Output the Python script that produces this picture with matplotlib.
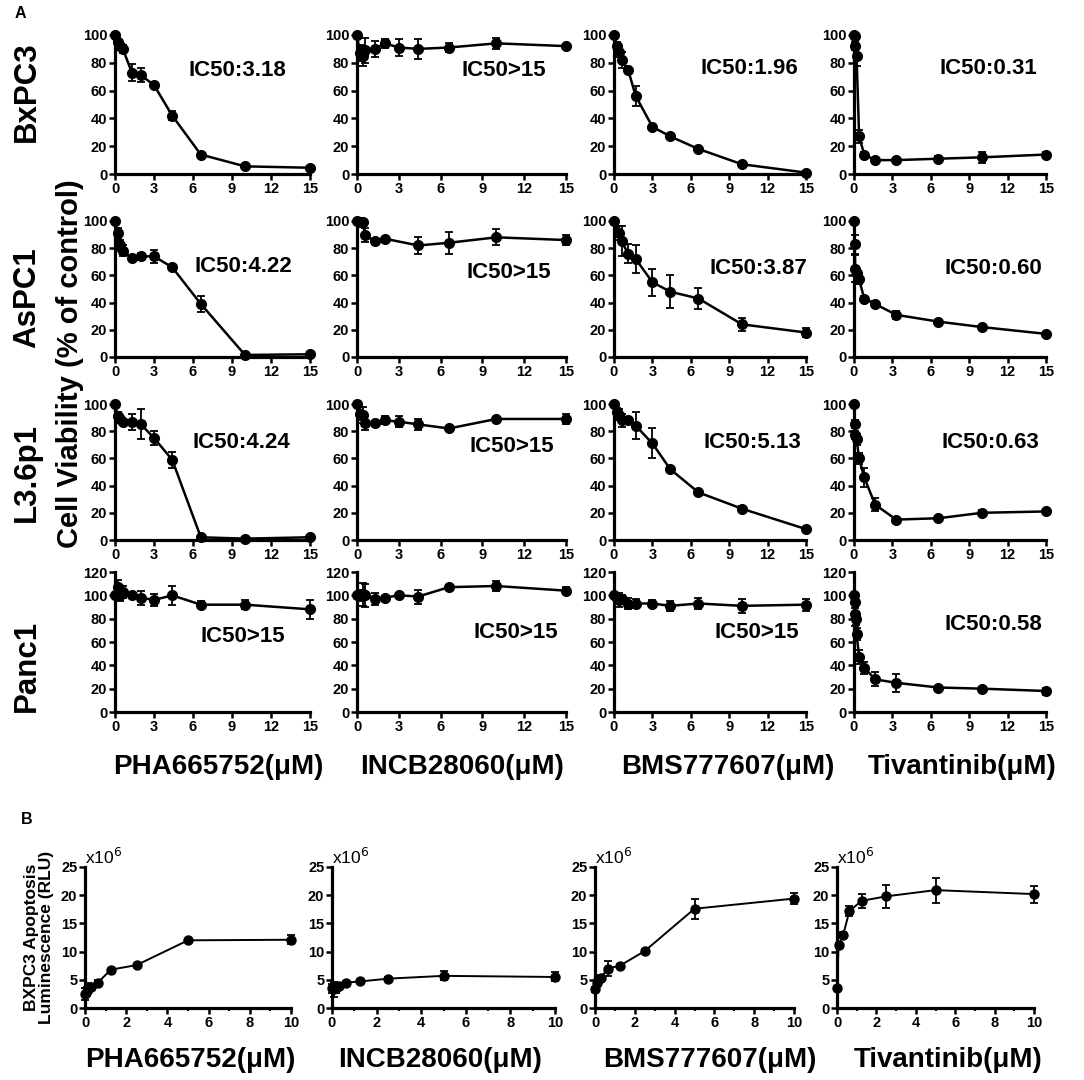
import numpy as np
import matplotlib
matplotlib.use("Agg")
import matplotlib.pyplot as plt

plt.rcParams['font.family'] = ['Liberation Sans', 'DejaVu Sans']
nan = np.nan

# ---- panel A data: cell viability (% of control) ----
cell_lines = ["BxPC3", "AsPC1", "L3.6p1", "Panc1"]
drugs = ["PHA665752", "INCB28060", "BMS777607", "Tivantinib"]

pha_x = [0, 0.2, 0.4, 0.6, 1.3, 2, 3, 4.4, 6.6, 10, 15]
incb_x = [0, 0.2, 0.4, 0.6, 1.3, 2, 3, 4.4, 6.6, 10, 15]
bms_x = [0, 0.2, 0.4, 0.6, 1.1, 1.7, 3, 4.4, 6.6, 10, 15]
tiv_x = [0, 0.05, 0.1, 0.15, 0.2, 0.4, 0.8, 1.65, 3.3, 6.6, 10, 15]

pha_bxpc3 = [100, 95, 92, 90, 73, 71, 64, 42, 14, 5.5, 4.5]
pha_bxpc3_err = [0, 2, 3, 3, 6, 5, 1.5, 3, 1, 1, 1]
pha_aspc1 = [100, 91, 82, 78, 73, 74, 74, 66, 39, 1.5, 2]
pha_aspc1_err = [0, 4, 4, 4, 1, 2.5, 5, 1.5, 6, 0.5, 1]
pha_l36 = [100, 91, 89, 87, 87, 85, 75, 59, 2, 1, 2]
pha_l36_err = [0, 3, 2, 1, 6, 11, 5, 6, 1, 0.5, 1]
pha_panc1 = [100, 107, 100, 103, 100, 98, 96, 100, 92, 92, 88]
pha_panc1_err = [0, 6, 5, 5, 2, 6, 5, 8, 3, 4, 8]

incb_bxpc3 = [100, 87, 85, 89, 90, 94, 91, 90, 91, 94, 92]
incb_bxpc3_err = [0, 6, 7, 9, 6, 3, 6, 7, 3, 4, 1]
incb_aspc1 = [100, 99, 99, 89.5, 85, 87, nan, 82, 84, 88, 86]
incb_aspc1_err = [0, 2, 2, 5, 1, 1, nan, 6, 8, 6, 4]
incb_l36 = [100, 93, 92, 86, 86, 88, 87, 85, 82, 89, 89]
incb_l36_err = [0, 5, 6, 5, 1, 3, 4, 4, 1, 1, 4]
incb_panc1 = [100, 100, 101, 100, 97, 98, 100, 99, 107, 108, 104]
incb_panc1_err = [0, 5, 10, 10, 5, 1, 1, 6, 1, 4, 3]

bms_bxpc3 = [100, 92, 88, 82, 75, 56, 34, 27, 18, 7, 1]
bms_bxpc3_err = [0, 3, 4, 6, 2, 7, 1.5, 1.5, 1, 1, 0.5]
bms_aspc1 = [100, nan, 91, 85, 76, 72, 55, 48, 43, 24, 18]
bms_aspc1_err = [0, nan, 5, 11, 7, 10, 10, 12, 8, 5, 3]
bms_l36 = [100, 94, 92, 88, 88, 84, 71, 52, 35, 23, 8]
bms_l36_err = [0, 3, 4, 5, 1, 10, 11, 1, 1, 2, 1]
bms_panc1 = [100, 98, 96, 97, 93, 93, 93, 91, 93, 91, 92]
bms_panc1_err = [0, 3, 6, 3, 5, 4, 3, 4, 5, 6, 5]

tiv_bxpc3 = [100, 99, 92, nan, 85, 27, 14, 10, 10, 11, 12, 14]
tiv_bxpc3_err = [0, 1, 3, nan, 7, 5, 2, 1, 1, 2, 4, 2]
tiv_aspc1 = [100, 83, 65, nan, 62, 57, 43, 39, 31, 26, 22, 17]
tiv_aspc1_err = [0, 7, 10, nan, 3, 3, 1.5, 2, 3, 1, 1, 1]
tiv_l36 = [100, 85, 77, nan, 74, 60, 46, 26, 15, 16, 20, 21]
tiv_l36_err = [0, 3, 3, nan, 4, 4, 7, 5, 1, 1, 2, 1]
tiv_panc1 = [100, 94, 84, 80, 67, 47, 38, 28, 25, 21, 20, 18]
tiv_panc1_err = [0, 5, 10, 5, 5, 6, 5, 6, 8, 1, 1, 3]

ic50_labels = [
    ["IC50:3.18", "IC50>15", "IC50:1.96", "IC50:0.31"],
    ["IC50:4.22", "IC50>15", "IC50:3.87", "IC50:0.60"],
    ["IC50:4.24", "IC50>15", "IC50:5.13", "IC50:0.63"],
    ["IC50>15", "IC50>15", "IC50>15", "IC50:0.58"],
]

# ---- panel B data: apoptosis luminescence (x10^6 RLU) ----
b_x = [0, 0.08, 0.16, 0.31, 0.63, 1.25, 2.5, 5, 10]
b_pha = [2.5, 3.0, 3.6, 3.8, 4.5, 6.8, 7.6, 12.0, 12.1]
b_pha_err = [1.0, 0.8, 0.8, 0.5, 0.5, 0.2, 0.2, 0.2, 0.8]
b_incb = [3.5, 3.3, 3.5, 3.9, 4.5, 4.7, 5.2, 5.7, 5.5]
b_incb_err = [0.8, 1.3, 0.8, 0.5, 0.2, 0.3, 0.3, 0.8, 0.8]
b_bms = [3.3, 4.5, 5.0, 5.4, 7.0, 7.5, 10.1, 17.6, 19.4]
b_bms_err = [0.5, 0.3, 0.3, 0.5, 1.3, 0.3, 0.3, 1.8, 1.0]
b_tiv = [3.6, 11.1, nan, 12.9, 17.2, 19.0, 19.8, 20.9, 20.2]
b_tiv_err = [0.3, 0.5, nan, 0.5, 0.8, 1.2, 2.0, 2.2, 1.5]

a_x = [pha_x, incb_x, bms_x, tiv_x]
a_y = [
    [pha_bxpc3, incb_bxpc3, bms_bxpc3, tiv_bxpc3],
    [pha_aspc1, incb_aspc1, bms_aspc1, tiv_aspc1],
    [pha_l36, incb_l36, bms_l36, tiv_l36],
    [pha_panc1, incb_panc1, bms_panc1, tiv_panc1],
]
a_err = [
    [pha_bxpc3_err, incb_bxpc3_err, bms_bxpc3_err, tiv_bxpc3_err],
    [pha_aspc1_err, incb_aspc1_err, bms_aspc1_err, tiv_aspc1_err],
    [pha_l36_err, incb_l36_err, bms_l36_err, tiv_l36_err],
    [pha_panc1_err, incb_panc1_err, bms_panc1_err, tiv_panc1_err],
]
b_y = [b_pha, b_incb, b_bms, b_tiv]
b_err = [b_pha_err, b_incb_err, b_bms_err, b_tiv_err]

W, H = 1084, 1080
fig = plt.figure(figsize=(W / 100, H / 100), dpi=100)


def px_axes(x0, x1, ytop, ybot):
    return fig.add_axes([x0 / W, 1 - ybot / H, (x1 - x0) / W, (ybot - ytop) / H])


def ftext(x, y, s, **kw):
    fig.text(x / W, 1 - y / H, s, **kw)


def style_axes(ax, labelsize=10.5):
    for side in ["top", "right"]:
        ax.spines[side].set_visible(False)
    for side in ["left", "bottom"]:
        ax.spines[side].set_linewidth(2.3)
    ax.tick_params(which="major", length=4, width=1.8, labelsize=labelsize, pad=1.5)
    ax.tick_params(which="minor", length=2.5, width=1.5)
    for lab in ax.get_xticklabels() + ax.get_yticklabels():
        lab.set_fontweight("bold")


def draw_curve(ax, x, y, err, lw=1.8, ms=7):
    x = np.asarray(x, float)
    y = np.asarray(y, float)
    err = np.asarray(err, float)
    m = ~np.isnan(y)
    ax.errorbar(x[m], y[m], yerr=err[m], color="black", lw=lw, marker="o",
                ms=ms, capsize=3.2, elinewidth=1.3, capthick=1.3, clip_on=False,
                zorder=3)


# panel A layout (pixels)
a_cols = [(115, 310), (357, 566), (614, 806), (854, 1046)]
a_rows = [(35, 174), (221, 357), (404, 540), (572, 712)]
ic50_pos = [
    [(237, 70), (504, 70), (749, 68), (988, 68)],
    [(243, 267), (509, 273), (758, 268), (993, 268)],
    [(241, 443), (512, 447), (752, 443), (990, 443)],
    [(243, 637), (516, 633), (757, 633), (993, 625)],
]

for r in range(4):
    for c in range(4):
        ax = px_axes(a_cols[c][0], a_cols[c][1], a_rows[r][0], a_rows[r][1])
        draw_curve(ax, a_x[c], a_y[r][c], a_err[r][c])
        ax.set_xlim(0, 15)
        ax.set_xticks([0, 3, 6, 9, 12, 15])
        if r == 3:
            ax.set_ylim(0, 120)
            ax.set_yticks([0, 20, 40, 60, 80, 100, 120])
        else:
            ax.set_ylim(0, 100)
            ax.set_yticks([0, 20, 40, 60, 80, 100])
        style_axes(ax)
        tx, ty = ic50_pos[r][c]
        ftext(tx, ty, ic50_labels[r][c], fontsize=16, fontweight="bold",
              ha="center", va="center")

row_label_y = [92, 298, 472, 666]
for r in range(4):
    ftext(27, row_label_y[r], cell_lines[r], fontsize=22.5, fontweight="bold",
          rotation=90, ha="center", va="center")

ftext(70, 364, "Cell Viability (% of control)", fontsize=21, fontweight="bold",
      rotation=90, ha="center", va="center")

a_label_x = [218, 462, 728, 962]
for c in range(4):
    ftext(a_label_x[c], 767, drugs[c] + "(\u03bcM)", fontsize=20,
          fontweight="bold", ha="center", va="center")

# panel B layout (pixels)
b_cols = [(85, 291), (332, 555), (595, 794), (837, 1034)]
for c in range(4):
    ax = px_axes(b_cols[c][0], b_cols[c][1], 867, 1008)
    draw_curve(ax, b_x, b_y[c], b_err[c], lw=1.4, ms=6.5)
    ax.set_xlim(0, 10)
    ax.set_ylim(0, 25)
    ax.set_xticks([0, 2, 4, 6, 8, 10])
    ax.set_xticks([1, 3, 5, 7, 9], minor=True)
    ax.set_yticks([0, 5, 10, 15, 20, 25])
    style_axes(ax, labelsize=10.5)
    ax.text(0.0, 1.0, "x10$^6$", transform=ax.transAxes, fontsize=12.5,
            ha="left", va="bottom")

b_label_x = [190, 440, 710, 948]
for c in range(4):
    ftext(b_label_x[c], 1060, drugs[c] + "(\u03bcM)", fontsize=20,
          fontweight="bold", ha="center", va="center")

ftext(39, 937, "BXPC3 Apoptosis\nLuminescence (RLU)", fontsize=12.5,
      fontweight="bold", rotation=90, ha="center", va="center",
      linespacing=1.0)

ftext(20, 14, "A", fontsize=11.5, fontweight="bold", ha="center", va="center")
ftext(27, 820, "B", fontsize=11.5, fontweight="bold", ha="center", va="center")

fig.savefig("out.png", dpi=100, facecolor="white")
